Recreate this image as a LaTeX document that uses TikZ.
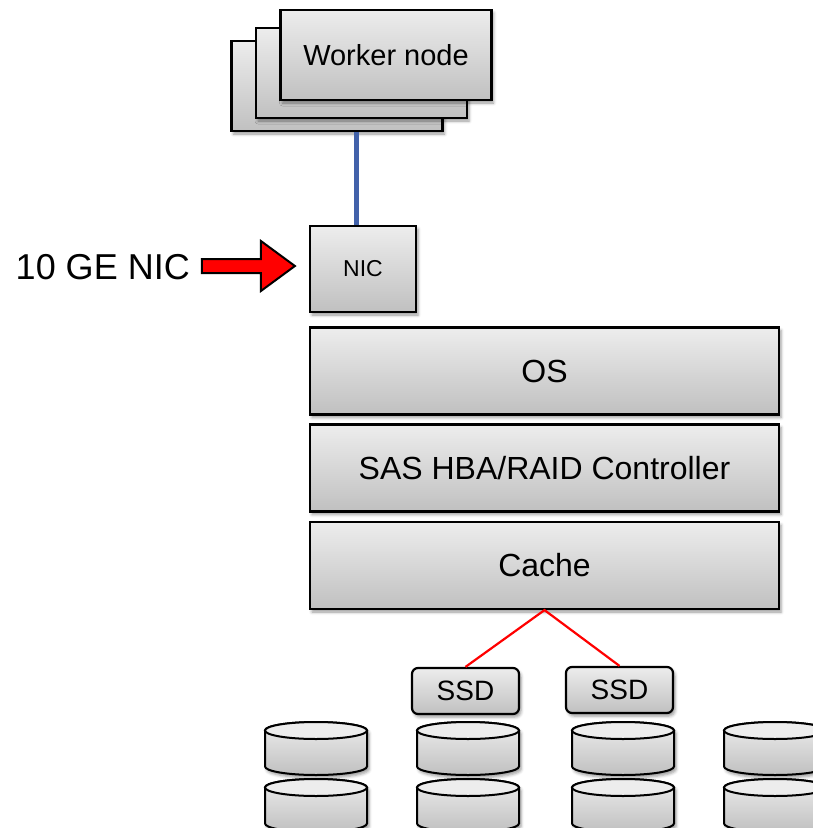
\documentclass[tikz,border=0pt]{standalone}
\usepackage{fontspec}
\setmainfont{Liberation Sans}
\usetikzlibrary{shadows,shadows.blur,calc}
\definecolor{boxtop}{HTML}{EDEDED}
\definecolor{boxbot}{HTML}{C0C0C0}
\definecolor{netblue}{HTML}{4262AA}
\begin{document}
\begin{tikzpicture}[x=1pt,y=-1pt,
  softshadow/.style={blur shadow={shadow xshift=2pt, shadow yshift=-3pt, shadow blur radius=3pt, shadow opacity=40}},
  box/.style={draw=black, line width=2.2pt, top color=boxtop, bottom color=boxbot,
    inner sep=0pt, softshadow},
  worker/.style={box, minimum width=211pt, minimum height=90pt, font=\fontsize{29}{34}\selectfont},
  layer/.style={box, minimum width=469pt, minimum height=87pt, font=\fontsize{32}{38}\selectfont},
  ssdbox/.style={box, rounded corners=6pt, minimum width=107pt, minimum height=46pt, font=\fontsize{28}{33}\selectfont},
  disklook/.style={draw=black, line width=2pt, top color=boxtop, bottom color=boxbot},
  pics/disk/.style={code={
    \path[disklook, softshadow]
      (-51,-18) -- (-51,18) arc[start angle=180, end angle=0, x radius=51, y radius=8.5]
      -- (51,-18) arc[start angle=0, end angle=-180, x radius=51, y radius=8.5] -- cycle;
    \draw[line width=2pt, fill=boxtop] (0,-18) ellipse[x radius=51, y radius=8.5];
  }}]
\useasboundingbox (0,0) rectangle (813,828);

% worker node stack
\node[worker] (w3) at (337,86) {};
\node[worker] (w2) at (361.5,73) {};
\node[worker] (w1) at (386,55) {Worker node};

% NIC
\node[box, minimum width=106pt, minimum height=86pt, font=\fontsize{23}{27}\selectfont] (nic) at (363,269) {NIC};
\coordinate (nictop) at ($(nic.north)+(-7,0)$);
\draw[netblue, line width=5pt] (w3.south -| nictop) -- (nictop);

% label and fat arrow
\node[anchor=east, inner sep=0pt, font=\fontsize{36}{42}\selectfont] (lbl) at (190,267) {10 GE NIC};
\coordinate (tip) at ($(nic.west)+(-14,-3)$);
\draw[line width=2pt, fill=red, line join=miter]
  (tip) -- ++(-34,-25) -- ++(0,18) -- ++(-59,0) -- ++(0,14) -- ++(59,0) -- ++(0,18) -- cycle;

% stack layers
\node[layer] (os) at (544.5,371) {OS};
\node[layer] (sas) at (544.5,468) {SAS HBA/RAID Controller};
\node[layer] (cache) at (544.5,565.5) {Cache};

% SSDs
\node[ssdbox] (ssd1) at (465.5,691) {SSD};
\node[ssdbox] (ssd2) at (619.5,690) {SSD};
\draw[red, line width=2.2pt] (ssd1.north) -- (cache.south) -- (ssd2.north);

% disks
\foreach \cx in {316,468,623,775}{
  \foreach \cy in {748.5,805.5}{
    \pic at (\cx,\cy) {disk};
  }
}
\end{tikzpicture}
\end{document}
